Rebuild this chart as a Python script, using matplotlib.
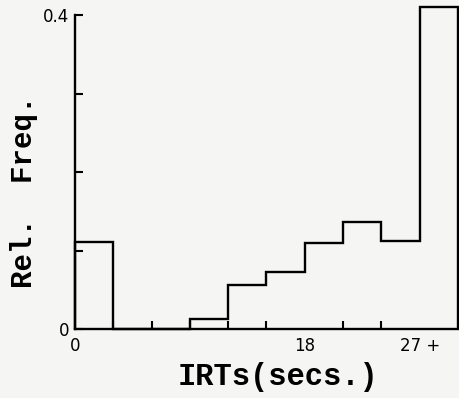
import matplotlib
matplotlib.use("Agg")
import matplotlib.pyplot as plt

# Data
bin_edges = [0, 3, 6, 9, 12, 15, 18, 21, 24, 27, 30]
rel_freq = [0.111, 0.0, 0.0, 0.013, 0.056, 0.073, 0.110, 0.137, 0.112, 0.410]
x_major_ticks = [0, 18, 27]
x_major_labels = ["0", "18", "27 +"]
x_minor_ticks = [3, 6, 9, 12, 15, 21, 24]
y_major_ticks = [0, 0.4]
y_major_labels = ["0", "0.4"]
y_minor_ticks = [0.1, 0.2, 0.3]

bg = "#f5f5f3"
fig = plt.figure(figsize=(4.6, 3.98), dpi=100, facecolor=bg)
ax = fig.add_axes([0.163, 0.173, 0.8326, 0.8186])
ax.set_facecolor(bg)

ax.stairs(rel_freq, bin_edges, baseline=0, fill=False, color="black",
          linewidth=1.7, clip_on=False)

ax.set_xlim(0, 30)
ax.set_ylim(0, 0.415)

for s in ["top", "right"]:
    ax.spines[s].set_visible(False)
for s in ["left", "bottom"]:
    ax.spines[s].set_linewidth(1.7)
ax.spines["left"].set_bounds(0, 0.4)

ax.set_xticks(x_major_ticks)
ax.set_xticklabels(x_major_labels, fontsize=12, family="DejaVu Sans")
ax.set_xticks(x_minor_ticks, minor=True)
ax.set_yticks(y_major_ticks)
ax.set_yticklabels(y_major_labels, fontsize=12, family="DejaVu Sans")
ax.set_yticks(y_minor_ticks, minor=True)
ax.tick_params(axis="both", which="both", direction="in", length=6, width=1.5, color="black")
ax.tick_params(axis="x", which="major", length=0, pad=6)
ax.tick_params(axis="y", which="major", pad=4)

fig.text(0.604, 0.053, "IRTs(secs.)", fontsize=22, family="Liberation Mono",
         fontweight="bold", ha="center", va="center")
fig.text(0.052, 0.518, "Rel.  Freq.", fontsize=21, family="Liberation Mono",
         fontweight="bold", ha="center", va="center", rotation=90)

fig.savefig("out.png", dpi=100, facecolor=bg)
